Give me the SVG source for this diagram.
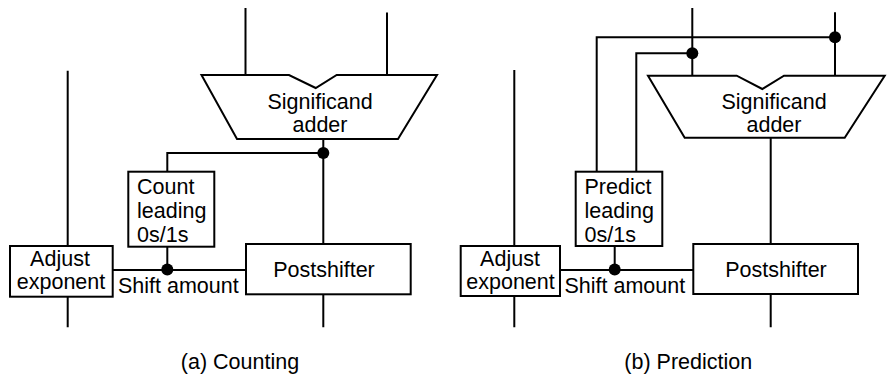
<svg xmlns="http://www.w3.org/2000/svg" width="887" height="381" viewBox="0 0 887 381">
<style>
.w{fill:none;stroke:#000;stroke-width:2;stroke-linecap:butt}
.b{fill:#fff;stroke:#000;stroke-width:2}
.d{fill:#000}
text{font-family:"Liberation Sans",Arial,sans-serif;font-size:21.5px;fill:#000}
.c{text-anchor:middle}
</style>
<rect width="887" height="381" fill="#fff"/>
<g id="connectors">
  <!-- left panel -->
  <path class="w" d="M245.5 8V75M387 12.5V75"/>
  <path class="w" d="M323.3 139V244M323.3 294.3V327.3"/>
  <path class="w" d="M323.3 153H167.3V171.7"/>
  <path class="w" d="M167.3 246.7V270"/>
  <path class="w" d="M67.7 70.7V246M67.7 296.7V327.3"/>
  <path class="w" d="M112.7 270H246"/>
  <circle class="d" cx="323.3" cy="153" r="6"/>
  <circle class="d" cx="167.3" cy="269.5" r="6"/>
  <!-- right panel -->
  <path class="w" d="M692.3 8V75.7M835 12.3V75.7"/>
  <path class="w" d="M835 37.3H596.7V171.7"/>
  <path class="w" d="M692.3 53.3H636.3V171.7"/>
  <path class="w" d="M770.7 137.7V244M770.7 294V327.3"/>
  <path class="w" d="M514.3 70V246M514.3 296V327.3"/>
  <path class="w" d="M560 270H693.3"/>
  <path class="w" d="M614.7 246V270"/>
  <circle class="d" cx="835" cy="37.3" r="6"/>
  <circle class="d" cx="692.3" cy="53.3" r="6"/>
  <circle class="d" cx="614.7" cy="269.5" r="6"/>
</g>
<g id="adder-a">
  <path class="b" d="M201.5 75H289L315.7 88L336.7 75H437L398 139H237Z"/>
  <text class="c" x="320" y="109">Significand</text>
  <text class="c" x="320" y="132">adder</text>
</g>
<g id="count-a">
  <rect class="b" x="128.3" y="171.7" width="86" height="75"/>
  <text x="137" y="194">Count</text>
  <text x="137" y="218">leading</text>
  <text x="137" y="242">0s/1s</text>
</g>
<g id="adjust-a">
  <rect class="b" x="10" y="246" width="102.7" height="50.7"/>
  <text class="c" x="60" y="266">Adjust</text>
  <text class="c" x="61" y="289">exponent</text>
</g>
<g id="shift-a">
  <text x="118" y="293">Shift amount</text>
</g>
<g id="post-a">
  <rect class="b" x="246" y="244" width="164.7" height="50.3"/>
  <text class="c" x="324" y="277">Postshifter</text>
</g>
<g id="label-a">
  <text class="c" x="240" y="369">(a) Counting</text>
</g>
<g id="adder-b">
  <path class="b" d="M648 75.7H736.7L762.3 89L784 75.7H884.7L844.7 137.7H684.7Z"/>
  <text class="c" x="774" y="109">Significand</text>
  <text class="c" x="774" y="132">adder</text>
</g>
<g id="predict-b">
  <rect class="b" x="575.7" y="171.7" width="86.6" height="74.3"/>
  <text x="584.5" y="194">Predict</text>
  <text x="584.5" y="218">leading</text>
  <text x="584.5" y="242">0s/1s</text>
</g>
<g id="adjust-b">
  <rect class="b" x="460.7" y="246" width="99.3" height="50"/>
  <text class="c" x="510" y="266">Adjust</text>
  <text class="c" x="510.5" y="289">exponent</text>
</g>
<g id="shift-b">
  <text x="564.5" y="293">Shift amount</text>
</g>
<g id="post-b">
  <rect class="b" x="693.3" y="244" width="164.7" height="50"/>
  <text class="c" x="776" y="277">Postshifter</text>
</g>
<g id="label-b">
  <text class="c" x="688.3" y="369">(b) Prediction</text>
</g>
</svg>
